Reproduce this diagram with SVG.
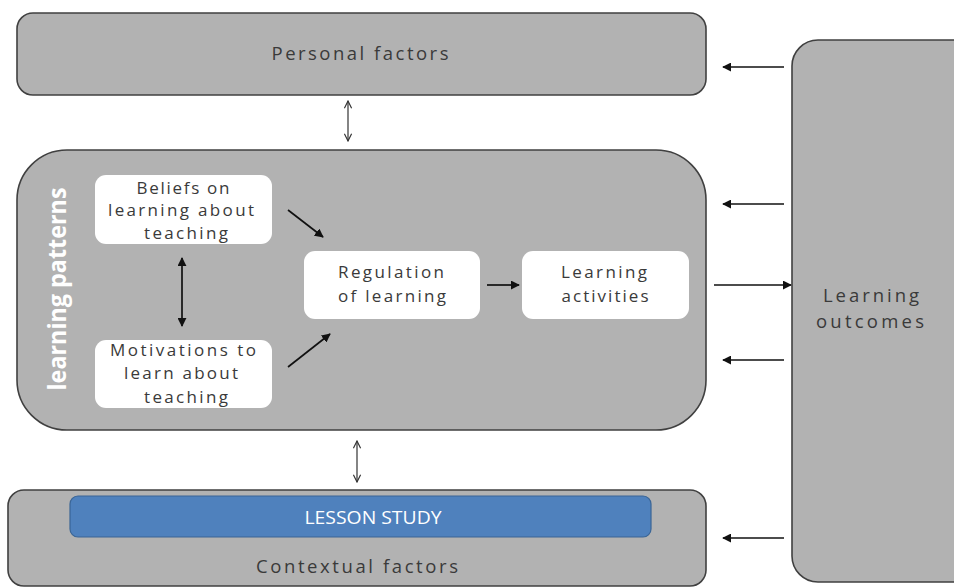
<svg xmlns="http://www.w3.org/2000/svg" width="954" height="588" viewBox="0 0 954 588">
<defs>
<style>
.box{fill:#b2b2b2;stroke:#404040;stroke-width:1.6}
.wbox{fill:#ffffff;stroke:none}
.t{font-family:"Open Sans","Liberation Sans",sans-serif;font-size:18.5px;fill:#3a3a3a;text-anchor:middle}
.s{font-size:17px}
.ln{stroke:#111;stroke-width:1.7;fill:none}
.thin{stroke:#333;stroke-width:1.2;fill:none}
</style>
<marker id="ah" viewBox="0 0 10 10" refX="9" refY="5" markerWidth="9" markerHeight="9" markerUnits="userSpaceOnUse" orient="auto-start-reverse"><path d="M0,0 L10,5 L0,10 z" fill="#111"/></marker>
<marker id="ao" viewBox="0 0 10 10" refX="9" refY="5" markerWidth="9" markerHeight="9" markerUnits="userSpaceOnUse" orient="auto-start-reverse"><path d="M1,1 L9,5 L1,9" fill="none" stroke="#333" stroke-width="1.3"/></marker>
</defs>
<rect width="954" height="588" fill="#ffffff"/>
<g id="personal">
<rect class="box" x="17" y="13" width="689" height="82" rx="16"/>
<text class="t" x="360" y="60" textLength="177" lengthAdjust="spacing">Personal factors</text>
</g>
<g id="patterns">
<rect class="box" x="17" y="150" width="689" height="280" rx="50"/>
<text x="66" y="289" transform="rotate(-90 66 289)" font-family="Open Sans, Liberation Sans, sans-serif" font-size="25" font-weight="bold" fill="#ffffff" text-anchor="middle" textLength="203" lengthAdjust="spacingAndGlyphs">learning patterns</text>
</g>
<g id="beliefs">
<rect class="wbox" x="95" y="175" width="177" height="69" rx="11"/>
<text class="t s" x="183" y="194" textLength="93" lengthAdjust="spacing">Beliefs on</text>
<text class="t s" x="181" y="216" textLength="146" lengthAdjust="spacing">learning about</text>
<text class="t s" x="186" y="239" textLength="84" lengthAdjust="spacing">teaching</text>
</g>
<g id="motivations">
<rect class="wbox" x="95" y="340" width="177" height="68" rx="11"/>
<text class="t s" x="183" y="356" textLength="146" lengthAdjust="spacing">Motivations to</text>
<text class="t s" x="181" y="379" textLength="114" lengthAdjust="spacing">learn about</text>
<text class="t s" x="186" y="403" textLength="84" lengthAdjust="spacing">teaching</text>
</g>
<g id="regulation">
<rect class="wbox" x="304" y="251" width="176" height="68" rx="11"/>
<text class="t s" x="391" y="278" textLength="106" lengthAdjust="spacing">Regulation</text>
<text class="t s" x="392" y="302" textLength="108" lengthAdjust="spacing">of learning</text>
</g>
<g id="activities">
<rect class="wbox" x="522" y="251" width="167" height="68" rx="11"/>
<text class="t s" x="604" y="278" textLength="86" lengthAdjust="spacing">Learning</text>
<text class="t s" x="605" y="302" textLength="87" lengthAdjust="spacing">activities</text>
</g>
<g id="outcomes">
<rect class="box" x="792" y="40" width="190" height="542" rx="26"/>
<text class="t" x="871" y="302" textLength="96" lengthAdjust="spacing">Learning</text>
<text class="t" x="870" y="328" textLength="108" lengthAdjust="spacing">outcomes</text>
</g>
<g id="contextual">
<rect class="box" x="8" y="490" width="698" height="96" rx="16"/>
<rect x="70" y="496" width="581" height="41" rx="8" fill="#4f81bd" stroke="#3a6596" stroke-width="1.2"/>
<text x="373" y="524" font-family="Open Sans, Liberation Sans, sans-serif" font-size="18" fill="#ffffff" text-anchor="middle" textLength="137" lengthAdjust="spacingAndGlyphs">LESSON STUDY</text>
<text class="t" x="357" y="573" textLength="202" lengthAdjust="spacing">Contextual factors</text>
</g>
<g id="connectors">
<line class="thin" x1="348" y1="101" x2="348" y2="141" marker-start="url(#ao)" marker-end="url(#ao)"/>
<line class="thin" x1="357" y1="441" x2="357" y2="482" marker-start="url(#ao)" marker-end="url(#ao)"/>
<line class="ln" x1="182" y1="258" x2="182" y2="326" stroke-width="2" marker-start="url(#ah)" marker-end="url(#ah)"/>
<line class="ln" x1="288" y1="210" x2="323" y2="237" marker-end="url(#ah)"/>
<line class="ln" x1="288" y1="367" x2="330" y2="334" marker-end="url(#ah)"/>
<line class="ln" x1="487" y1="285" x2="519" y2="285" marker-end="url(#ah)"/>
<line class="ln" x1="714" y1="285" x2="791" y2="285" marker-end="url(#ah)"/>
<line class="ln" x1="784" y1="67" x2="723" y2="67" marker-end="url(#ah)"/>
<line class="ln" x1="784" y1="204" x2="723" y2="204" marker-end="url(#ah)"/>
<line class="ln" x1="784" y1="360" x2="723" y2="360" marker-end="url(#ah)"/>
<line class="ln" x1="784" y1="538" x2="723" y2="538" marker-end="url(#ah)"/>
</g>
</svg>
